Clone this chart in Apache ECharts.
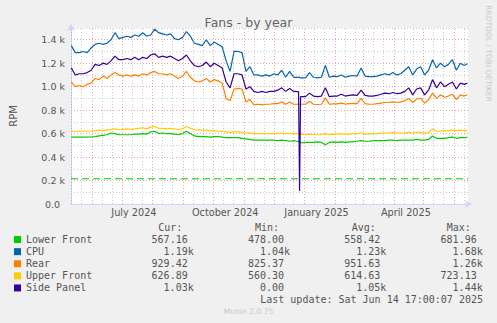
<!DOCTYPE html>
<html>
<head>
<meta charset="utf-8">
<script src="https://cdn.jsdelivr.net/npm/echarts@6/dist/echarts.min.js"></script>
<style>
html,body{margin:0;padding:0;background:#F0F0F0;}
#chart{width:497px;height:323px;}
</style>
</head>
<body>
<div id="chart"></div>
<script>
// ---- data ----
const dates = [
 '2024-05-11','2024-05-15','2024-05-19','2024-05-23','2024-05-27','2024-05-31',
 '2024-06-04','2024-06-08','2024-06-12','2024-06-16','2024-06-20','2024-06-24','2024-06-28',
 '2024-07-02','2024-07-06','2024-07-10','2024-07-14','2024-07-18','2024-07-22','2024-07-26','2024-07-30',
 '2024-08-03','2024-08-07','2024-08-11','2024-08-15','2024-08-19','2024-08-23','2024-08-27','2024-08-31',
 '2024-09-04','2024-09-08','2024-09-12','2024-09-16','2024-09-20','2024-09-24','2024-09-28',
 '2024-10-02','2024-10-06','2024-10-10','2024-10-14','2024-10-18','2024-10-22','2024-10-26','2024-10-30',
 '2024-11-03','2024-11-07','2024-11-11','2024-11-15','2024-11-19','2024-11-23','2024-11-27',
 '2024-12-01','2024-12-05','2024-12-09','2024-12-13','2024-12-17','2024-12-21','2024-12-25','2024-12-26','2024-12-27','2024-12-28','2024-12-29',
 '2025-01-02','2025-01-06','2025-01-10','2025-01-14','2025-01-18','2025-01-22','2025-01-26','2025-01-30',
 '2025-02-03','2025-02-07','2025-02-11','2025-02-15','2025-02-19','2025-02-23','2025-02-27',
 '2025-03-03','2025-03-07','2025-03-11','2025-03-15','2025-03-19','2025-03-23','2025-03-27','2025-03-31',
 '2025-04-04','2025-04-08','2025-04-12','2025-04-16','2025-04-20','2025-04-24','2025-04-28',
 '2025-05-02','2025-05-06','2025-05-10','2025-05-14','2025-05-18','2025-05-22','2025-05-26','2025-05-30',
 '2025-06-03','2025-06-07','2025-06-11','2025-06-14'
];
const lowerFront = [
 570,570,570,570,570,572,
 575,580,585,590,605,600,590,
 590,590,590,595,595,600,595,615,
 620,600,605,600,600,595,590,600,
 620,600,580,575,575,575,570,
 575,575,570,565,565,565,565,560,
 555,550,545,545,545,545,545,
 545,540,545,540,535,540,535,530,530,530,520,
 525,525,525,530,525,505,525,530,
 525,530,525,530,530,535,540,
 535,535,540,540,540,540,545,545,
 540,545,545,545,545,550,545,
 545,550,580,560,560,560,565,570,
 560,565,565,567
];
const cpu = [
 1350,1290,1290,1300,1290,1330,
 1360,1370,1360,1370,1400,1460,1410,
 1420,1430,1420,1440,1430,1460,1430,1440,
 1490,1460,1450,1440,1450,1410,1400,1420,
 1470,1430,1370,1360,1350,1400,1350,
 1380,1360,1340,1220,1130,1300,1300,1290,
 1130,1170,1100,1100,1090,1100,1090,
 1110,1100,1140,1080,1130,1080,1080,1080,1080,1075,1075,
 1075,1120,1080,1075,1080,1180,1080,1090,
 1085,1100,1080,1090,1095,1090,1160,
 1090,1085,1085,1090,1100,1110,1100,1120,
 1100,1110,1140,1170,1100,1150,1170,
 1100,1140,1230,1160,1200,1170,1190,1230,
 1140,1200,1180,1195
];
const rear = [
 1040,1000,1010,1000,1020,1030,
 1070,1060,1090,1070,1100,1120,1100,
 1090,1100,1090,1100,1090,1110,1100,1120,
 1130,1110,1110,1100,1110,1090,1070,1090,
 1130,1080,1050,1040,1050,1070,1040,
 1060,1050,1030,900,880,980,985,980,
 870,890,845,850,845,850,850,
 855,855,870,850,870,850,850,850,850,850,850,
 850,875,850,848,850,905,850,853,
 853,860,852,855,858,855,900,
 855,850,850,855,860,865,865,870,
 865,870,880,900,865,895,900,
 860,890,945,900,930,910,920,935,
 890,930,920,930
];
const upperFront = [
 620,620,620,620,620,622,
 625,630,625,630,635,640,635,
 635,640,635,640,645,650,640,655,
 660,645,645,640,645,640,635,640,
 660,645,635,630,630,630,625,
 625,620,620,615,610,615,615,610,
 605,605,600,600,600,600,600,
 600,600,605,600,600,600,600,600,600,600,595,
 590,595,590,590,590,600,590,595,
 595,600,595,595,600,600,605,
 595,595,600,600,605,605,605,610,
 605,605,605,610,605,610,610,
 605,610,640,620,620,625,625,630,
 625,630,625,627
];
const sidePanel = [
 1160,1100,1110,1110,1120,1140,
 1190,1180,1200,1190,1220,1260,1230,
 1230,1240,1230,1250,1230,1250,1240,1270,
 1280,1250,1260,1250,1260,1240,1220,1240,
 1270,1220,1180,1170,1180,1210,1170,
 1200,1180,1160,1040,990,1110,1110,1100,
 980,1000,960,950,960,950,960,
 960,970,990,960,985,960,957,957,110,915,915,
 915,945,920,915,920,990,915,920,
 920,935,920,925,930,925,970,
 925,920,920,925,935,945,940,950,
 940,945,960,990,930,980,990,
 930,970,1060,990,1040,1000,1020,1040,
 980,1030,1020,1030
];
const lowerFrontWarning = 215;

const seriesNames = ['Lower Front','CPU','Rear','Upper Front','Side Panel'];
const seriesValues = [lowerFront, cpu, rear, upperFront, sidePanel];
const curVals = ['567.16','1.19k','929.42','626.89','1.03k'];
const minVals = ['478.00','1.04k','825.37','560.30','0.00'];
const avgVals = ['558.42','1.23k','951.63','614.63','1.05k'];
const maxVals = ['681.96','1.68k','1.26k','723.13','1.44k'];
const statHeaders = ['Cur:','Min:','Avg:','Max:'];

const yTickLabels = ['0.0','0.2 k','0.4 k','0.6 k','0.8 k','1.0 k','1.2 k','1.4 k'];
const xTickMonths = ['2024-07','2024-10','2025-01','2025-04'];
const xTickLabels = ['July 2024','October 2024','January 2025','April 2025'];
// vertical grid positions (month starts = major, 11th / 21st = minor)
const gridMajorDates = ['2024-06-01','2024-07-01','2024-08-01','2024-09-01','2024-10-01','2024-11-01','2024-12-01',
  '2025-01-01','2025-02-01','2025-03-01','2025-04-01','2025-05-01','2025-06-01'];
const gridMinorDates = ['2024-05-11','2024-05-21','2024-06-11','2024-06-21','2024-07-11','2024-07-21',
  '2024-08-11','2024-08-21','2024-09-11','2024-09-21','2024-10-11','2024-10-21','2024-11-11','2024-11-21',
  '2024-12-11','2024-12-21','2025-01-11','2025-01-21','2025-02-11','2025-02-21','2025-03-11','2025-03-21',
  '2025-04-11','2025-04-21','2025-05-11','2025-05-21','2025-06-11'];

const timeStart = '2024-05-10 17:00:00';
const timeEnd = '2025-06-14 17:00:00';

// ---- styles ----
const colors = ['#00CC00','#0066B3','#FF8000','#FFCC00','#330099'];
const AXIS = '#CFD6F8';
const MGRID = 'rgba(230,70,70,0.5)';
const GRID = 'rgba(140,140,140,0.45)';
const FONT = 'DejaVu Sans';
const MONO = 'DejaVu Sans Mono';
const TXT = '#555555';

const series = seriesNames.map((name, k) => ({
  name: name,
  type: 'line',
  data: dates.map((d, i) => [d, seriesValues[k][i]]),
  showSymbol: false,
  symbol: 'none',
  lineStyle: { color: colors[k], width: 1.2 },
  itemStyle: { color: colors[k] },
  z: 3 + k,
  animation: false
}));

const gridLineItems = gridMajorDates.map(d => ({ xAxis: d, lineStyle: { color: MGRID, type: [1, 2], width: 1 } }))
  .concat(gridMinorDates.map(d => ({ xAxis: d, lineStyle: { color: GRID, type: [1, 2], width: 1 } })));

series.unshift({
  name: 'Lower Front warning',
  type: 'line',
  data: [[timeStart, lowerFrontWarning], [timeEnd, lowerFrontWarning]],
  showSymbol: false,
  symbol: 'none',
  lineStyle: { color: colors[0], width: 1.2, type: [7, 4] },
  itemStyle: { color: colors[0] },
  z: 2,
  silent: true,
  animation: false,
  markLine: {
    silent: true, symbol: 'none', animation: false,
    label: { show: false },
    emphasis: { disabled: true },
    data: gridLineItems
  }
});

// legend statistics text
const graphics = [];
const colRight = [187.7, 284, 380.3, 476.7];
const colHeadX = [158.3, 255, 351.7, 446.7];
const cols = [curVals, minVals, avgVals, maxVals];
const rowY = [239.5, 251.6, 263.7, 275.8, 287.9];
statHeaders.forEach((h, c) => {
  graphics.push({ type: 'text', x: colHeadX[c], y: 227.3,
    style: { text: h, fill: TXT, fontSize: 10, fontFamily: MONO, align: 'left', textAlign: 'left', verticalAlign: 'middle', textVerticalAlign: 'middle' } });
});
cols.forEach((vals, c) => {
  vals.forEach((v, r) => {
    const isK = v.endsWith('k');
    graphics.push({ type: 'text', x: isK ? colRight[c] + 6 : colRight[c], y: rowY[r],
      style: { text: v, fill: TXT, fontSize: 10, fontFamily: MONO, align: 'right', textAlign: 'right', verticalAlign: 'middle', textVerticalAlign: 'middle' } });
  });
});
graphics.push({ type: 'text', x: 483, y: 299.5,
  style: { text: 'Last update: Sat Jun 14 17:00:07 2025', fill: TXT, fontSize: 10, fontFamily: MONO, align: 'right', textAlign: 'right', verticalAlign: 'middle', textVerticalAlign: 'middle' } });
graphics.push({ type: 'text', x: 248.5, y: 311.7,
  style: { text: 'Munin 2.0.75', fill: '#c8c8c8', fontSize: 7.6, fontFamily: FONT, align: 'center', textAlign: 'center', verticalAlign: 'middle', textVerticalAlign: 'middle' } });
graphics.push({ type: 'text', x: 488, y: 53.5, rotation: -Math.PI / 2,
  style: { text: 'RRDTOOL / TOBI OETIKER', fill: '#c8c8c8', fontSize: 7.5, fontFamily: FONT, align: 'center', textAlign: 'center', verticalAlign: 'middle', textVerticalAlign: 'middle' } });

const option = {
  backgroundColor: '#F0F0F0',
  animation: false,
  title: {
    text: 'Fans - by year', left: 'center', top: 11,
    textStyle: { fontFamily: FONT, fontSize: 12.5, fontWeight: 'normal', color: '#666666' }
  },
  grid: { left: 66, right: 29, top: 28, bottom: 119, show: true, backgroundColor: '#FFFFFF', borderWidth: 0 },
  legend: {
    orient: 'vertical', left: 14, top: 233.5, padding: 0, itemWidth: 7, itemHeight: 7, itemGap: 0,
    icon: 'rect', selectedMode: false,
    itemStyle: { borderWidth: 0 },
    textStyle: { fontFamily: MONO, fontSize: 10, color: TXT, lineHeight: 12.1 },
    data: seriesNames
  },
  xAxis: {
    type: 'time', min: timeStart, max: timeEnd,
    minInterval: 28 * 86400000, maxInterval: 31 * 86400000,
    axisLine: { lineStyle: { color: AXIS, width: 1 }, symbol: ['none', 'arrow'], symbolSize: [6, 7], symbolOffset: [0, 4] },
    axisTick: { show: false },
    splitLine: { show: false },
    minorSplitLine: { show: false },
    axisLabel: {
      fontFamily: FONT, fontSize: 9.7, color: TXT, margin: 3, padding: [0, 0, 0, 24], align: 'center',
      formatter: function (value) {
        const d = new Date(value);
        const key = d.getFullYear() + '-' + String(d.getMonth() + 1).padStart(2, '0');
        const i = xTickMonths.indexOf(key);
        return (i >= 0 && d.getDate() === 1) ? xTickLabels[i] : '';
      }
    }
  },
  yAxis: {
    type: 'value', min: 0, max: 1500, interval: 100,
    name: 'RPM', nameLocation: 'middle', nameGap: 53, nameRotate: 90,
    nameTextStyle: { fontFamily: FONT, fontSize: 10, color: TXT },
    axisLine: { show: true, lineStyle: { color: AXIS, width: 1 }, symbol: ['none', 'arrow'], symbolSize: [6, 7], symbolOffset: [0, 4] },
    axisTick: { show: false },
    splitLine: { show: true, lineStyle: { color: [MGRID, GRID], type: [1, 2], width: 1 } },
    axisLabel: {
      fontFamily: FONT, fontSize: 9.5, color: TXT, margin: 6,
      formatter: function (v) {
        if (v % 200 !== 0) return '';
        const i = v / 200;
        if (i >= yTickLabels.length) return '';
        return i === 0 ? '{z|' + yTickLabels[0] + '}' : yTickLabels[i];
      },
      rich: { z: { fontFamily: FONT, fontSize: 9.5, color: TXT, padding: [0, 5, 0, 0] } }
    }
  },
  graphic: graphics,
  series: series
};

const chart = echarts.init(document.getElementById('chart'), null, { renderer: 'svg' });
chart.setOption(option);
</script>
</body>
</html>
